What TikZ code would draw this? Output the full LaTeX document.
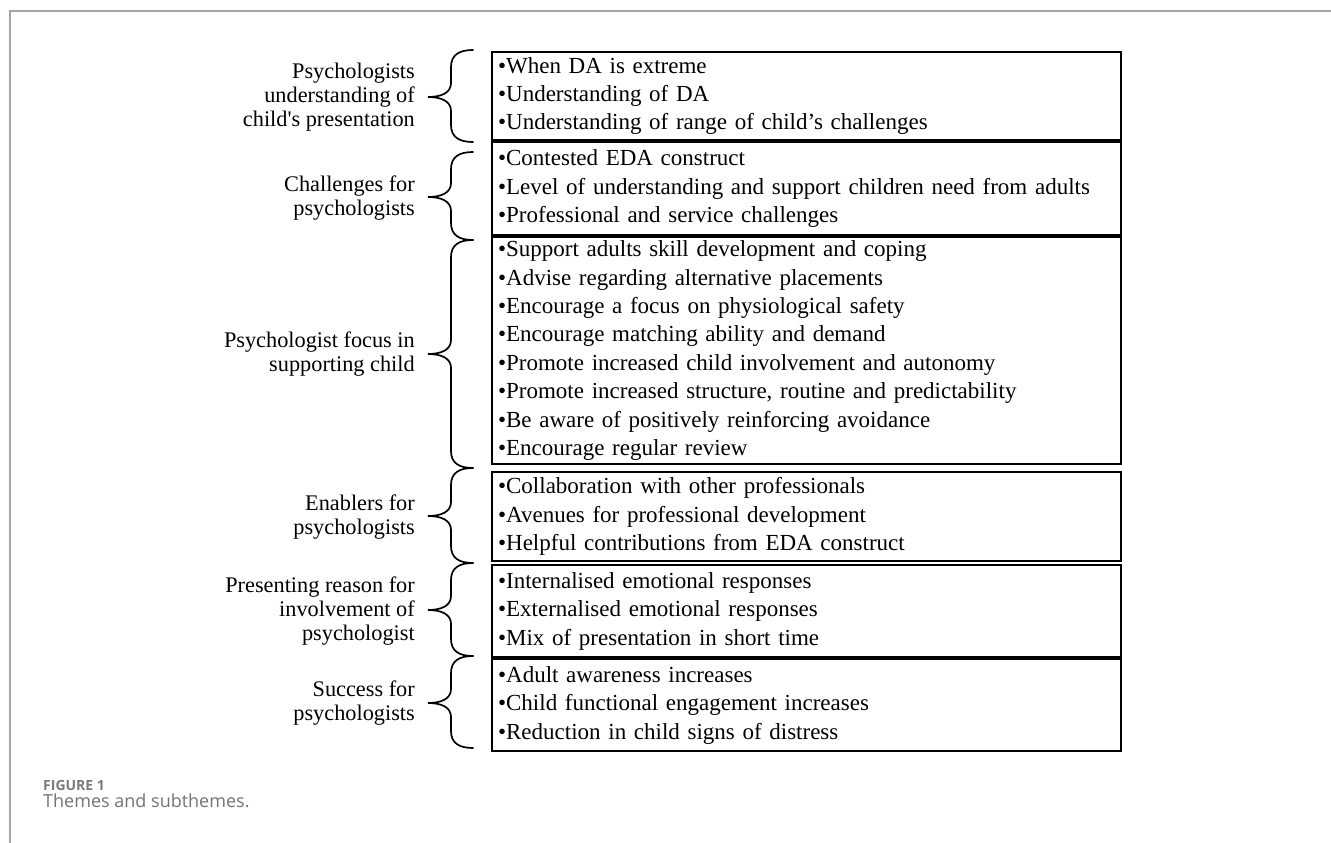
\documentclass[tikz,border=0pt]{standalone}
\usepackage{fontspec}
\newfontfamily\srf{Liberation Serif}
\newfontfamily\capfont{Open Sans}
\newcommand\drawbrace[3]{%
  \draw[brc] (473,#1) .. controls (459,#1) and (451,#1+5) .. (451,#1+17)
    -- (451,#2-14) .. controls (451,#2-4) and (441,#2) .. (428,#2)
    .. controls (441,#2) and (451,#2+4) .. (451,#2+14)
    -- (451,#3-17) .. controls (451,#3-5) and (459,#3) .. (473,#3);}
\begin{document}
\begin{tikzpicture}[x=1pt,y=-1pt,
  box/.style={draw, line width=2.2pt, anchor=north west, minimum width=629pt,
    text width=617pt, inner xsep=6pt, inner ysep=0pt, align=left,
    font=\srf\fontsize{23}{28.4}\selectfont},
  lbl/.style={anchor=east, align=right, inner sep=0pt,
    font=\srf\fontsize{22.3}{23.8}\selectfont},
  brc/.style={line width=1.7pt, line cap=round}]
\useasboundingbox (0,0) rectangle (1331,843);
% frame
\draw[black!35, line width=1.5pt] (10,843) -- (10,11) -- (1331,11);
% boxes
\node[box, minimum height=88pt] (b1) at (491,51) {•When DA is extreme\\•Understanding of DA\\•Understanding of range of child’s challenges};
\node[box, minimum height=93pt] (b2) at (491,141) {•Contested EDA construct\\•Level of understanding and support children need from adults\\•Professional and service challenges};
\node[box, minimum height=227pt] (b3) at (491,236) {•Support adults skill development and coping\\•Advise regarding alternative placements\\•Encourage a focus on physiological safety\\•Encourage matching ability and demand\\•Promote increased child involvement and autonomy\\•Promote increased structure, routine and predictability\\•Be aware of positively reinforcing avoidance\\•Encourage regular review};
\node[box, minimum height=89pt] (b4) at (491,471) {•Collaboration with other professionals\\•Avenues for professional development\\•Helpful contributions from EDA construct};
\node[box, minimum height=92pt] (b5) at (491,564) {•Internalised emotional responses\\•Externalised emotional responses\\•Mix of presentation in short time};
\node[box, minimum height=92pt] (b6) at (491,658) {•Adult awareness increases\\•Child functional engagement increases\\•Reduction in child signs of distress};
% labels
\node[lbl] (l1) at (415,97) {Psychologists\\understanding of\\child's presentation};
\node[lbl] (l2) at (415,198) {Challenges for\\psychologists};
\node[lbl] (l3) at (415,354) {Psychologist focus in\\supporting child};
\node[lbl] (l4) at (415,517) {Enablers for\\psychologists};
\node[lbl] (l5) at (415,611) {Presenting reason for\\involvement of\\psychologist};
\node[lbl] (l6) at (415,703) {Success for\\psychologists};
% braces
\drawbrace{50}{97}{142}
\drawbrace{152}{197}{240}
\drawbrace{240}{354}{468}
\drawbrace{468}{516}{563}
\drawbrace{563}{610}{656}
\drawbrace{656}{703}{748}
% caption
\node[anchor=base west, inner sep=0pt, text=black!52, font=\capfont\bfseries\fontsize{14}{15}\selectfont] (fig) at (43,790) {FIGURE 1};
\node[anchor=base west, inner sep=0pt, text=black!55, font=\capfont\fontsize{18}{20}\selectfont] (cap) at (43,807) {Themes and subthemes.};
\end{tikzpicture}
\end{document}
